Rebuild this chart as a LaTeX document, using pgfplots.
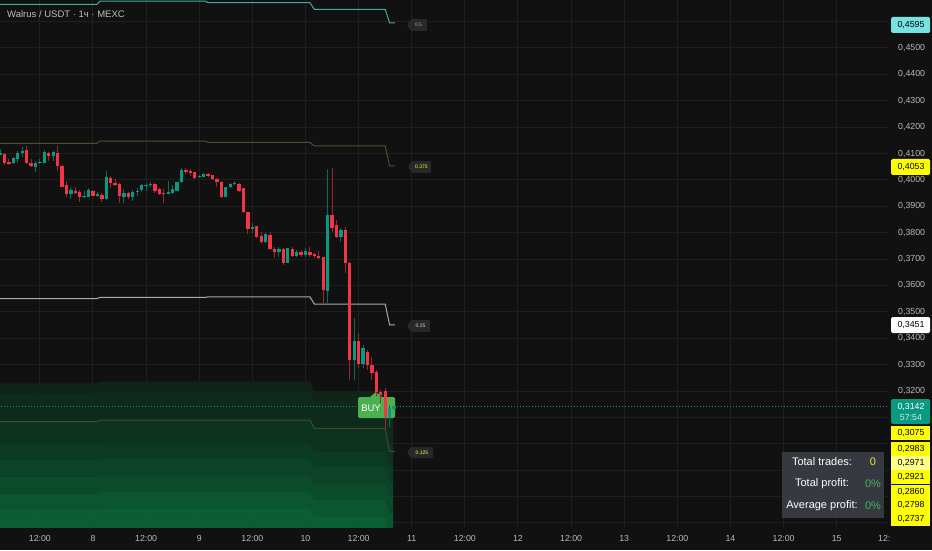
\documentclass[border=0pt]{standalone}
\usepackage{fontspec}
\setmainfont{Liberation Sans}
\usepackage{pgfplots}
\usepackage{pgfplotstable}
\pgfplotsset{compat=1.18}

\definecolor{bg}{RGB}{17,17,17}
\definecolor{gridc}{RGB}{31,31,31}
\definecolor{tickc}{RGB}{185,185,185}
\definecolor{upbody}{RGB}{8,153,129}
\definecolor{dnbody}{RGB}{242,54,69}
\definecolor{upwick}{RGB}{15,105,90}
\definecolor{dnwick}{RGB}{150,40,50}
\definecolor{lfive}{RGB}{70,170,160}
\definecolor{lthree}{RGB}{78,78,52}
\definecolor{ltwo}{RGB}{170,170,170}
\definecolor{lone}{RGB}{62,78,45}
\definecolor{bandA}{RGB}{16,38,27}
\definecolor{bandB}{RGB}{14,45,30}
\definecolor{bandC}{RGB}{13,54,34}
\definecolor{bandD}{RGB}{12,63,38}
\definecolor{bandE}{RGB}{12,72,42}
\definecolor{bandF}{RGB}{11,81,46}
\definecolor{bandG}{RGB}{11,91,51}
\definecolor{bandH}{RGB}{11,101,56}
\definecolor{buyc}{RGB}{76,175,80}
\definecolor{tagc}{RGB}{40,40,40}
\definecolor{cyanbox}{RGB}{120,225,225}
\definecolor{yel}{RGB}{255,255,0}
\definecolor{paleyel}{RGB}{255,255,140}
\definecolor{panel}{RGB}{54,57,64}
\definecolor{pgreen}{RGB}{70,175,100}
\definecolor{pyellow}{RGB}{230,230,70}
\definecolor{titlec}{RGB}{190,190,190}

\pgfplotstableread{
t o h l c
3 .4095 .4117 .4093 .4101
6 .4063 .4086 .4060 .4082
7 .4079 .4111 .4063 .4101
8 .4103 .4124 .4088 .4110
11 .4050 .4073 .4031 .4065
12 .4063 .4078 .4060 .4069
13 .4065 .4114 .4063 .4107
15 .4092 .4110 .4073 .4105
19 .3947 .3970 .3927 .3962
22 .3934 .3959 .3932 .3940
23 .3937 .3968 .3934 .3962
25 .3939 .3955 .3937 .3946
27 .3928 .4035 .3924 .4012
31 .3934 .3965 .3911 .3949
33 .3936 .3962 .3921 .3955
34 .3953 .3968 .3939 .3959
35 .3962 .3984 .3953 .3981
36 .3977 .3987 .3959 .3981
37 .3980 .3993 .3974 .3985
41 .3947 .3997 .3946 .3955
42 .3949 .3981 .3946 .3965
43 .3959 .3994 .3958 .3991
44 .3991 .4044 .3990 .4038
48 .4010 .4019 .4006 .4016
49 .4012 .4028 .4010 .4023
54 .3937 .3974 .3934 .3972
55 .3972 .3987 .3968 .3985
56 .3983 .3997 .3981 .3987
60 .3814 .3836 .3798 .3823
63 .3764 .3798 .3762 .3795
66 .3728 .3747 .3707 .3737
68 .3686 .3743 .3684 .3741
70 .3712 .3734 .3709 .3728
72 .3716 .3741 .3709 .3732
77 .3580 .4040 .3532 .3867
80 .3783 .3817 .3766 .3810
83 .3318 .3477 .3242 .3391
85 .3302 .3374 .3287 .3363
91 .3103 .3147 .3065 .3131
92 .3131 .3144 .3128 .3142
}\up

\pgfplotstableread{
t o h l c
4 .4098 .4101 .4057 .4063
5 .4068 .4078 .4056 .4060
9 .4114 .4129 .4060 .4063
10 .4065 .4079 .4050 .4053
14 .4103 .4107 .4073 .4091
16 .4103 .4129 .4035 .4053
17 .4053 .4055 .3972 .3974
18 .3981 .3996 .3937 .3946
20 .3959 .3974 .3947 .3949
21 .3953 .3962 .3918 .3937
24 .3959 .3962 .3939 .3940
26 .3943 .3949 .3918 .3927
28 .4006 .4015 .3968 .3990
29 .3990 .4003 .3977 .3980
30 .3984 .3987 .3911 .3940
32 .3949 .3953 .3927 .3934
38 .3984 .3990 .3949 .3958
39 .3965 .3968 .3943 .3946
40 .3952 .3965 .3911 .3946
45 .4038 .4044 .4023 .4031
46 .4034 .4040 .4015 .4027
47 .4029 .4031 .4004 .4006
50 .4023 .4025 .4010 .4016
51 .4019 .4020 .4000 .4002
52 .4002 .4006 .3974 .3993
53 .3993 .3995 .3932 .3934
57 .3985 .3987 .3955 .3959
58 .3968 .3970 .3875 .3877
59 .3880 .3880 .3795 .3814
61 .3825 .3825 .3779 .3783
62 .3787 .3804 .3760 .3764
64 .3791 .3804 .3735 .3737
65 .3737 .3745 .3703 .3728
67 .3738 .3741 .3678 .3684
69 .3737 .3745 .3709 .3713
71 .3726 .3734 .3709 .3716
73 .3726 .3745 .3709 .3716
74 .3718 .3724 .3703 .3712
75 .3712 .3732 .3700 .3703
76 .3707 .3709 .3532 .3583
78 .3867 .4046 .3804 .3817
79 .3829 .3848 .3779 .3783
81 .3810 .3823 .3648 .3686
82 .3686 .3690 .3242 .3318
84 .3391 .3420 .3287 .3302
86 .3349 .3355 .3280 .3299
87 .3299 .3330 .3242 .3270
88 .3273 .3280 .3180 .3198
89 .3198 .3204 .3155 .3185
90 .3201 .3211 .3052 .3103
}\dn

\begin{document}
\begin{tikzpicture}[x=1pt,y=1pt]
\fill[bg] (0,0) rectangle (932,550);
\begin{axis}[
  at={(0pt,23pt)}, anchor=south west,
  width=888pt, height=527pt, scale only axis,
  xmin=2.993, xmax=203.58,
  ymin=0.268458, ymax=0.468192,
  axis line style={draw=none},
  major tick length=0pt,
  tick style={draw=none},
  grid=major,
  major grid style={draw=gridc, line width=1pt},
  xtick={12,24,36,48,60,72,84,96,108,120,132,144,156,168,180,192},
  xticklabels={12:00,8,12:00,9,12:00,10,12:00,11,12:00,12,12:00,13,12:00,14,12:00,15},
  ytick={0.32,0.33,0.34,0.35,0.36,0.37,0.38,0.39,0.40,0.41,0.42,0.43,0.44,0.45},
  extra y ticks={0.27,0.28,0.29,0.30,0.31,0.46},
  extra y tick labels={},
  extra y tick style={grid=major, major grid style={draw=gridc, line width=1pt}},
  yticklabel pos=right,
  scaled y ticks=false,
  /pgf/number format/fixed,
  /pgf/number format/fixed zerofill,
  /pgf/number format/precision=4,
  /pgf/number format/use comma,
  /pgf/number format/assume math mode=true,
  ticklabel style={font=\fontsize{8.8}{10}\selectfont, text=tickc},
  xticklabel style={anchor=base, inner sep=0pt, yshift=-14.5pt},
  yticklabel style={anchor=west, inner sep=0pt, xshift=10pt},
]
% green bands (polygons between successive level boundaries)
\addplot[fill=bandA, fill opacity=0.92, draw=none, forget plot] coordinates {(2.5,.32292) (24.9,.32292) (25.6,.32353) (49.3,.32353) (50,.32353) (73,.32353) (74,.32000) (90,.32000) (91,.3140) (91.8,.3140) (91.8,.3090) (91,.3090) (90,.31621) (74,.31621) (73,.31962) (50,.31962) (49.3,.31962) (25.6,.31962) (24.9,.31913) (2.5,.31913)} -- cycle;
\addplot[fill=bandB, fill opacity=0.92, draw=none, forget plot] coordinates {(2.5,.31913) (24.9,.31913) (25.6,.31962) (49.3,.31962) (50,.31962) (73,.31962) (74,.31621) (90,.31621) (91,.3090) (91.8,.3090) (91.8,.3000) (91,.3000) (90,.30587) (74,.30587) (73,.30901) (50,.30901) (49.3,.30901) (25.6,.30901) (24.9,.30837) (2.5,.30837)} -- cycle;
\addplot[fill=bandC, fill opacity=0.92, draw=none, forget plot] coordinates {(2.5,.30837) (24.9,.30837) (25.6,.30901) (49.3,.30901) (50,.30901) (73,.30901) (74,.30587) (90,.30587) (91,.3000) (91.8,.3000) (91.8,.2921) (91,.2921) (90,.29688) (74,.29688) (73,.29992) (50,.29992) (49.3,.29992) (25.6,.29992) (24.9,.29954) (2.5,.29954)} -- cycle;
\addplot[fill=bandD, fill opacity=0.92, draw=none, forget plot] coordinates {(2.5,.29954) (24.9,.29954) (25.6,.29992) (49.3,.29992) (50,.29992) (73,.29992) (74,.29688) (90,.29688) (91,.2921) (91.8,.2921) (91.8,.2860) (91,.2860) (90,.29120) (74,.29120) (73,.29423) (50,.29423) (49.3,.29423) (25.6,.29423) (24.9,.29385) (2.5,.29385)} -- cycle;
\addplot[fill=bandE, fill opacity=0.92, draw=none, forget plot] coordinates {(2.5,.29385) (24.9,.29385) (25.6,.29423) (49.3,.29423) (50,.29423) (73,.29423) (74,.29120) (90,.29120) (91,.2860) (91.8,.2860) (91.8,.2798) (91,.2798) (90,.28476) (74,.28476) (73,.28779) (50,.28779) (49.3,.28779) (25.6,.28779) (24.9,.28752) (2.5,.28752)} -- cycle;
\addplot[fill=bandF, fill opacity=0.92, draw=none, forget plot] coordinates {(2.5,.28752) (24.9,.28752) (25.6,.28779) (49.3,.28779) (50,.28779) (73,.28779) (74,.28476) (90,.28476) (91,.2798) (91.8,.2798) (91.8,.2737) (91,.2737) (90,.27869) (74,.27869) (73,.28172) (50,.28172) (49.3,.28172) (25.6,.28172) (24.9,.28123) (2.5,.28123)} -- cycle;
\addplot[fill=bandG, fill opacity=0.92, draw=none, forget plot] coordinates {(2.5,.28123) (24.9,.28123) (25.6,.28172) (49.3,.28172) (50,.28172) (73,.28172) (74,.27869) (90,.27869) (91,.2737) (91.8,.2737) (91.8,.2670) (91,.2670) (90,.27225) (74,.27225) (73,.27528) (50,.27528) (49.3,.27528) (25.6,.27528) (24.9,.27490) (2.5,.27490)} -- cycle;
\addplot[fill=bandH, fill opacity=0.92, draw=none, forget plot] coordinates {(2.5,.27490) (24.9,.27490) (25.6,.27528) (49.3,.27528) (50,.27528) (73,.27528) (74,.27225) (90,.27225) (91,.2670) (91.8,.2670) (91.8,.2600) (2.5,.2600)} -- cycle;
% level lines
\addplot[lfive, line width=1pt, forget plot] coordinates {(2.5,0.46656) (24.9,0.46656) (25.6,0.46781) (49.3,0.46781) (50,0.46717) (73,0.46717) (74,0.46467) (90,0.46467) (91,0.4595) (92.2,0.4595)};
\addplot[lthree, line width=1pt, forget plot] coordinates {(2.5,0.41388) (24.9,0.41388) (25.6,0.41475) (49.3,0.41475) (50,0.41419) (73,0.41419) (74,0.41286) (90,0.41286) (91,0.4053) (92.2,0.4053)};
\addplot[ltwo, line width=1pt, forget plot] coordinates {(2.5,0.35506) (24.9,0.35506) (25.6,0.35544) (49.3,0.35544) (50,0.35570) (73,0.35570) (74,0.35297) (90,0.35297) (91,0.3451) (92.2,0.3451)};
\addplot[lone, line width=1pt, forget plot] coordinates {(2.5,0.30837) (24.9,0.30837) (25.6,0.30901) (49.3,0.30901) (50,0.30901) (73,0.30901) (74,0.30587) (90,0.30587) (91,0.2971) (92.2,0.2971)};
% current price line
\addplot[upbody, line width=0.8pt, dash pattern=on 1pt off 2pt, forget plot] coordinates {(2.5,0.3142) (204,0.3142)};
% BUY label
\fill[buyc, rounded corners=1.5pt] (axis cs:83.86,0.317728) rectangle (axis cs:92.22,0.309769);
\fill[buyc] (axis cs:86.57,0.31770) -- (axis cs:87.93,0.319623) -- (axis cs:89.28,0.31770) -- cycle;
\node[text=white, font=\fontsize{9.5}{9.5}\selectfont, inner sep=0pt] at (axis cs:86.8,0.31356) {BUY};
% wicks
\addplot[draw=none, mark=none, forget plot, error bars/.cd, y dir=plus, y explicit, error mark=none, error bar style={draw=upwick, line width=1pt}] table[x=t, y=l, y error plus expr={\thisrow{h}-\thisrow{l}}] {\up};
\addplot[draw=none, mark=none, forget plot, error bars/.cd, y dir=plus, y explicit, error mark=none, error bar style={draw=dnwick, line width=1pt}] table[x=t, y=l, y error plus expr={\thisrow{h}-\thisrow{l}}] {\dn};
% bodies
\addplot[draw=none, mark=none, forget plot, error bars/.cd, y dir=plus, y explicit, error mark=none, error bar style={draw=upbody, line width=3.3pt}] table[x=t, y=o, y error plus expr={max(\thisrow{c}-\thisrow{o},0.0004)}] {\up};
\addplot[draw=none, mark=none, forget plot, error bars/.cd, y dir=plus, y explicit, error mark=none, error bar style={draw=dnbody, line width=3.3pt}] table[x=t, y=c, y error plus expr={max(\thisrow{o}-\thisrow{c},0.0004)}] {\dn};
\end{axis}

% title
\node[anchor=west, text=titlec, font=\fontsize{9.5}{10}\selectfont, inner sep=0pt] at (7,536) {Walrus / USDT · 1ч · MEXC};
% clipped last time label
\node[anchor=base west, text=tickc, font=\fontsize{8.8}{10}\selectfont, inner sep=0pt] at (878,8.5) {12:};

% level tags
\fill[tagc, rounded corners=1pt] (407,525) -- (411,531) -- (427,531) -- (427,519) -- (411,519) -- cycle;
\node[text=lfive!80!white, font=\fontsize{5}{5}\selectfont, inner sep=0pt] at (418.5,525) {0.5};
\fill[tagc, rounded corners=1pt] (408,383) -- (412,389) -- (431,389) -- (431,377) -- (412,377) -- cycle;
\node[text=yel!80!white, font=\fontsize{5}{5}\selectfont, inner sep=0pt] at (421.5,383) {0.375};
\fill[tagc, rounded corners=1pt] (407,224) -- (411,230) -- (430,230) -- (430,218) -- (411,218) -- cycle;
\node[text=white!85!black, font=\fontsize{5}{5}\selectfont, inner sep=0pt] at (420.5,224) {0.25};
\fill[tagc, rounded corners=1pt] (407,97.5) -- (411,103) -- (433,103) -- (433,92) -- (411,92) -- cycle;
\node[text=yel!75!white, font=\fontsize{5}{5}\selectfont, inner sep=0pt] at (422,97.5) {0.125};

% right price boxes
\begin{scope}[font=\fontsize{8.8}{10}\selectfont]
\fill[cyanbox, rounded corners=1.5pt] (891,517) rectangle (930,533);
\node[text=black, inner sep=0pt] at (911,525) {0,4595};
\fill[yel, rounded corners=1.5pt] (891,375) rectangle (930,391);
\node[text=black, inner sep=0pt] at (911,383) {0,4053};
\fill[white, rounded corners=1.5pt] (891,217) rectangle (930,233);
\node[text=black, inner sep=0pt] at (911,225) {0,3451};
\fill[upbody, rounded corners=1.5pt] (891,126) rectangle (930,151);
\node[text=white, inner sep=0pt] at (911,143) {0,3142};
\node[text=white!80!upbody, inner sep=0pt] at (911,132) {57:54};
\fill[yel] (891,110) rectangle (930,124);
\node[text=black, inner sep=0pt] at (911,117) {0,3075};
\fill[yel] (891,94) rectangle (930,108);
\node[text=black, inner sep=0pt] at (911,101) {0,2983};
\fill[paleyel] (891,80) rectangle (930,94);
\node[text=black, inner sep=0pt] at (911,87) {0,2971};
\fill[yel] (891,66.5) rectangle (930,80);
\node[text=black, inner sep=0pt] at (911,73) {0,2921};
\fill[yel] (891,51.5) rectangle (930,65);
\node[text=black, inner sep=0pt] at (911,58) {0,2860};
\fill[yel] (891,38) rectangle (930,51.5);
\node[text=black, inner sep=0pt] at (911,45) {0,2798};
\fill[yel] (891,24) rectangle (930,38);
\node[text=black, inner sep=0pt] at (911,31) {0,2737};
\end{scope}

% stats panel
\fill[panel] (782,32) rectangle (884,98);
\begin{scope}[font=\fontsize{11}{12}\selectfont, inner sep=0pt]
\node[text=white] at (822,88) {Total trades:};
\node[text=pyellow] at (873,88) {0};
\node[text=white] at (822,66) {Total profit:};
\node[text=pgreen] at (873,66) {0\%};
\node[text=white] at (822,44) {Average profit:};
\node[text=pgreen] at (873,44) {0\%};
\end{scope}
\pgfresetboundingbox
\useasboundingbox (0,0) rectangle (932,550);
\end{tikzpicture}
\end{document}
